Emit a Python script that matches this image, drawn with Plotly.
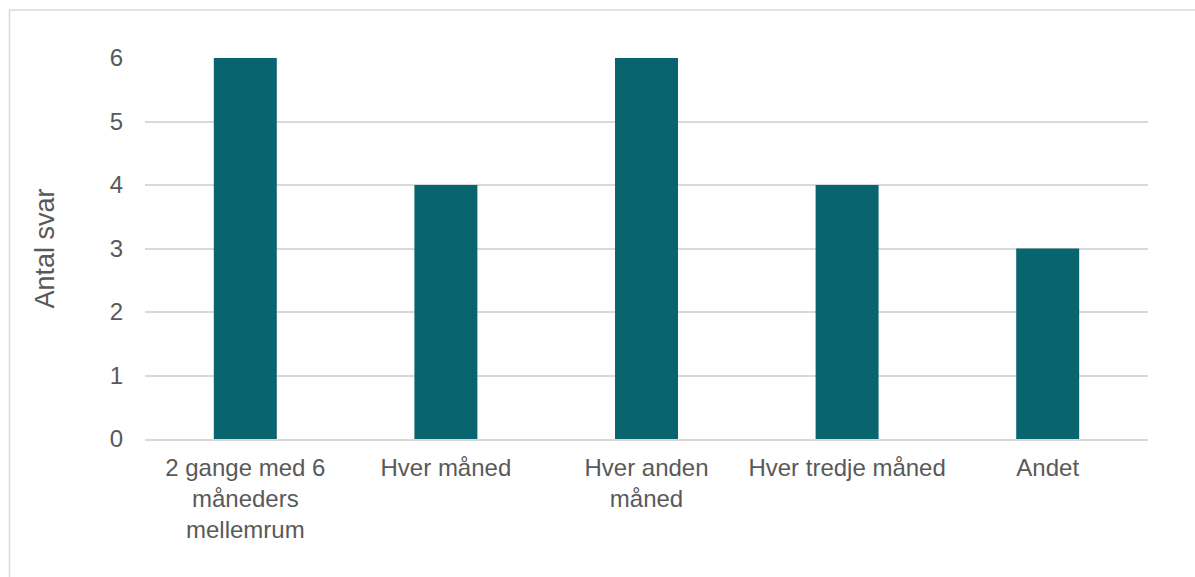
import plotly.graph_objects as go

categories = ["2 gange med 6<br>måneders<br>mellemrum", "Hver måned", "Hver anden<br>måned", "Hver tredje måned", "Andet"]
values = [6, 4, 6, 4, 3]
y_ticks = [0, 1, 2, 3, 4, 5, 6]

W, H = 1195, 577
L, R, T, B = 145, 47, 58, 138
pw, ph = W - L - R, H - T - B

fig = go.Figure(go.Bar(x=categories, y=values, marker=dict(color="#08646F", line=dict(width=0))))

txt = "#595959"
font = "Liberation Sans, Arial, sans-serif"
fig.update_layout(
    width=W, height=H,
    margin=dict(l=L, r=R, t=T, b=B, autoexpand=False),
    paper_bgcolor="white", plot_bgcolor="white",
    bargap=0.686,
    showlegend=False,
    font=dict(family=font, color=txt, size=24),
    xaxis=dict(showgrid=False, showline=True, linecolor="#D9D9D9", linewidth=2,
               tickfont=dict(size=24, color=txt), ticks="outside", ticklen=6, tickcolor="white",
               automargin=False),
    yaxis=dict(range=[0, 6], tickvals=y_ticks, showgrid=True, gridcolor="#D9D9D9", gridwidth=1.5,
               zeroline=False, showline=False, ticklabelstandoff=21,
               tickfont=dict(size=24, color=txt),
               title=dict(text="Antal svar", font=dict(size=27, color=txt), standoff=47),
               automargin=False),
    shapes=[dict(type="rect", xref="paper", yref="paper",
                 x0=(9.5 - L) / pw, x1=(W + 10 - L) / pw,
                 y0=(H - B - (H + 10)) / ph, y1=(H - B - 10) / ph,
                 line=dict(color="#D9D9D9", width=1.5), fillcolor="rgba(0,0,0,0)", layer="below")],
)

fig.write_html("out.html")
